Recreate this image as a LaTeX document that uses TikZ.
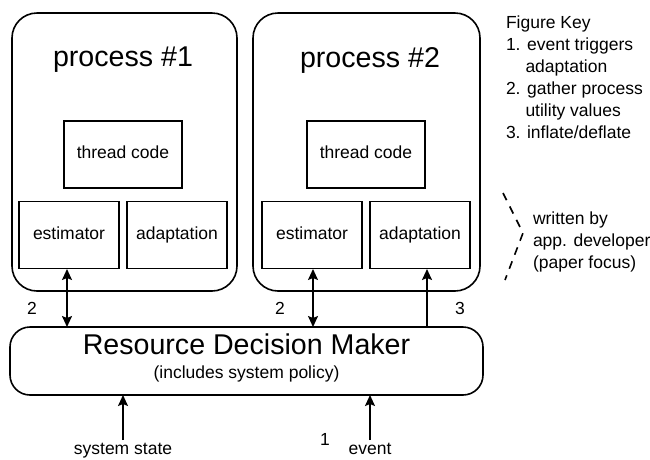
\documentclass[tikz,border=0pt]{standalone}
\usepackage{fontspec}
\setmainfont{Liberation Sans}
\usetikzlibrary{arrows.meta}
\begin{document}
\begin{tikzpicture}[x=1pt,y=-1pt,
  every node/.style={inner sep=0pt, outer sep=0pt},
  smalltext/.style={font=\fontsize{17.5}{22}\selectfont},
  bigtext/.style={font=\fontsize{28.6}{32}\selectfont},
  procbox/.style={draw, line width=1.6pt, rounded corners=25pt,
    minimum width=225pt, minimum height=278pt},
  partbox/.style={draw, line width=1.6pt, minimum width=100pt,
    minimum height=67pt, smalltext, text height=12.6pt, text depth=3.7pt},
  codebox/.style={draw, line width=1.6pt, minimum width=118pt,
    minimum height=67pt, smalltext, text height=12.6pt, text depth=3.7pt},
  flow/.style={line width=1.6pt, -{Stealth[length=11pt,width=10pt,inset=2pt]}},
  twoway/.style={line width=1.6pt, {Stealth[length=11pt,width=10pt,inset=2pt]}-{Stealth[length=11pt,width=10pt,inset=2pt]}}
]
\useasboundingbox (0,0) rectangle (650,459);

% the two processes
\node[procbox] (p1) at (124.5,152) {};
\node[procbox, minimum width=227pt] (p2) at (366.5,152) {};
\node[bigtext] (t1) at (123,60) {process \#1};
\node[bigtext] (t2) at (370,60) {process \#2};

\node[codebox] (tc1) at (123,154.5) {thread code};
\node[codebox] (tc2) at (366,154.5) {thread code};

\node[partbox] (est1) at (69,235) {estimator};
\node[partbox] (ada1) at (177,235) {adaptation};
\node[partbox] (est2) at (312,235) {estimator};
\node[partbox] (ada2) at (420,235) {adaptation};

% resource decision maker
\node[draw, line width=1.6pt, rounded corners=20pt, minimum width=473pt,
  minimum height=68pt] (rdm) at (246.5,361) {};
\node[bigtext] (rdmt) at (246.5,344) {Resource Decision Maker};
\node[smalltext] (rdms) at (246.5,374) {(includes system policy)};

% connectors between processes and the decision maker
\coordinate (e1) at (67,269);
\coordinate (e2) at (313,269);
\coordinate (a2) at (427,269);
\draw[twoway] (e1) -- (e1 |- rdm.north);
\draw[twoway] (e2) -- (e2 |- rdm.north);
\draw[flow] (a2 |- rdm.north) -- (a2);

\node[smalltext] (n2a) at (32,308) {2};
\node[smalltext] (n2b) at (280,308) {2};
\node[smalltext] (n3) at (460,308) {3};

% inputs from below
\node[smalltext, anchor=base] (ss) at (123,454) {system state};
\node[smalltext, anchor=base] (ev) at (370,454) {event};
\node[smalltext] (n1) at (325,439) {1};
\coordinate (ssin) at (123,440);
\coordinate (evin) at (370,440);
\draw[flow] (ssin) -- (ssin |- rdm.south);
\draw[flow] (evin) -- (evin |- rdm.south);

% key
\node[smalltext, align=left, anchor=north west] (key) at (506,16)
  {Figure Key\\
   1. event triggers\\
   \hspace*{19.5pt}adaptation\\
   2. gather process\\
   \hspace*{19.5pt}utility values\\
   3. inflate/deflate};

% bracket for developer-written parts
\draw[line width=1.6pt, dash pattern=on 8pt off 7pt] (503,193) -- (523,233) -- (505,280);
\node[smalltext, align=left, anchor=west] (dev) at (533,242)
  {written by\\app. developer\\(paper focus)};
\end{tikzpicture}
\end{document}
